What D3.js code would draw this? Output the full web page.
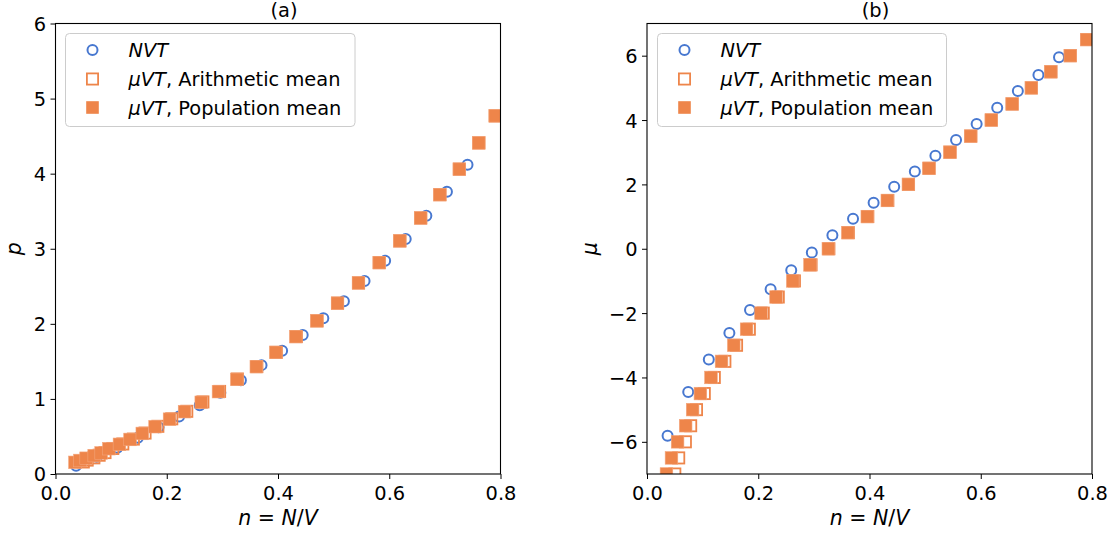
<!DOCTYPE html>
<html><head><meta charset="utf-8">
<script src="https://cdn.jsdelivr.net/npm/d3@7"></script>
<style>
body{margin:0;background:#fff;}
svg{display:block;font-family:"DejaVu Sans",sans-serif;}
</style></head><body><svg id="c" width="1114" height="535"></svg>
<script>
// NVT simulations
const nNVT=[0.0370,0.0741,0.1111,0.1481,0.1852,0.2222,0.2593,0.2963,0.3333,0.3704,0.4074,0.4444,0.4815,0.5185,0.5556,0.5926,0.6296,0.6667,0.7037,0.7407];
const pNVT=[0.11,0.23,0.35,0.484,0.622,0.765,0.915,1.083,1.25,1.45,1.64,1.85,2.075,2.30,2.57,2.84,3.13,3.44,3.76,4.12];
const muNVT=[-5.81,-4.45,-3.44,-2.62,-1.90,-1.255,-0.665,-0.12,0.42,0.93,1.43,1.93,2.40,2.89,3.38,3.88,4.385,4.90,5.40,5.95];
// muVT simulations
const muVT=[-7,-6.5,-6,-5.5,-5,-4.5,-4,-3.5,-3,-2.5,-2,-1.5,-1,-0.5,0,0.5,1,1.5,2,2.5,3,3.5,4,4.5,5,5.5,6,6.5];
const nPop=[0.035,0.044,0.055,0.0695,0.082,0.096,0.115,0.134,0.156,0.179,0.205,0.232,0.262,0.293,0.326,0.361,0.396,0.432,0.470,0.507,0.5447,0.582,0.619,0.6565,0.691,0.726,0.761,0.7905];
const pPop=[0.155,0.18,0.21,0.245,0.28,0.337,0.395,0.46,0.54,0.63,0.73,0.83,0.955,1.097,1.26,1.43,1.62,1.83,2.04,2.275,2.545,2.815,3.105,3.41,3.72,4.06,4.41,4.77];
const nArith=[0.050,0.057,0.069,0.0785,0.089,0.103,0.121,0.140,0.161,0.184,0.209,0.236,0.265,0.295,0.327,0.362,0.397,0.433,0.470,0.507,0.5447,0.582,0.619,0.6565,0.691,0.726,0.761,0.7905];
const pArith=[0.16,0.185,0.215,0.25,0.285,0.34,0.40,0.465,0.545,0.635,0.735,0.835,0.96,1.10,1.265,1.43,1.62,1.83,2.04,2.275,2.545,2.815,3.105,3.41,3.72,4.06,4.41,4.77];
// axes
const xTicks=[0,0.2,0.4,0.6,0.8];
const pTicks=[0,1,2,3,4,5,6];
const muTicks=[-6,-4,-2,0,2,4,6];
const legendLabels=[["NVT",""],["μVT",", Arithmetic mean"],["μVT",", Population mean"]];
const BLUE="#4878d0", ORANGE="#ee854a";

const svg=d3.select("#c");
const FS=19.4;

function panel(cfg){
  const x=d3.scaleLinear().domain([0,0.8]).range([cfg.x0,cfg.x1]);
  const y=d3.scaleLinear().domain(cfg.yDom).range([474,23.5]);
  const g=svg.append("g");
  const cid="clip"+cfg.id;
  svg.append("clipPath").attr("id",cid).append("rect")
    .attr("x",cfg.x0).attr("y",23.5).attr("width",cfg.x1-cfg.x0).attr("height",474-23.5);
  const marks=g.append("g").attr("clip-path","url(#"+cid+")");
  // NVT circles
  marks.selectAll("circle").data(nNVT.map((n,i)=>[n,cfg.yNVT[i]])).join("circle")
    .attr("cx",d=>x(d[0])).attr("cy",d=>y(d[1])).attr("r",5)
    .attr("fill","none").attr("stroke",BLUE).attr("stroke-width",2);
  // arithmetic hollow squares
  marks.selectAll("rect.ar").data(nArith.map((n,i)=>[n,cfg.yAr[i]])).join("rect").attr("class","ar")
    .attr("x",d=>x(d[0])-5.6).attr("y",d=>y(d[1])-5.6).attr("width",11.2).attr("height",11.2)
    .attr("fill","none").attr("stroke",ORANGE).attr("stroke-width",1.8);
  // population filled squares
  marks.selectAll("rect.po").data(nPop.map((n,i)=>[n,cfg.yPop[i]])).join("rect").attr("class","po")
    .attr("x",d=>x(d[0])-6.3).attr("y",d=>y(d[1])-6.3).attr("width",12.6).attr("height",12.6)
    .attr("fill",ORANGE).attr("stroke","#f3a47a").attr("stroke-width",0.6);

  // axes
  const xa=g.append("g").attr("transform","translate(0,474)")
    .call(d3.axisBottom(x).tickValues(xTicks).tickFormat(d3.format(".1f")).tickSize(5).tickPadding(7.5));
  const ya=g.append("g").attr("transform",`translate(${cfg.x0},0)`)
    .call(d3.axisLeft(y).tickValues(cfg.yTicks).tickFormat(d3.format("d")).tickSize(5).tickPadding(4.5));
  [xa,ya].forEach(a=>{
    a.attr("font-size",FS).attr("font-family","DejaVu Sans");
    a.selectAll("text").attr("fill","#000");
    a.selectAll("line").attr("stroke","#000").attr("stroke-width",1);
    a.select(".domain").remove();
  });
  ya.selectAll("text").attr("dy","0.36em");
  // frame
  g.append("rect").attr("x",cfg.x0).attr("y",23.5).attr("width",cfg.x1-cfg.x0).attr("height",474-23.5)
    .attr("fill","none").attr("stroke","#000").attr("stroke-width",1.1);
  // title
  g.append("text").attr("x",(cfg.x0+cfg.x1)/2+6).attr("y",17).attr("text-anchor","middle")
    .attr("font-size",FS).text(cfg.title);
  // x label
  const xl=g.append("text").attr("x",(cfg.x0+cfg.x1)/2).attr("y",525).attr("text-anchor","middle").attr("font-size",20.5);
  xl.append("tspan").attr("font-style","italic").text("n");
  xl.append("tspan").text(" = ");
  xl.append("tspan").attr("font-style","italic").text("N");
  xl.append("tspan").text("/");
  xl.append("tspan").attr("font-style","italic").text("V");
  // y label
  g.append("text").attr("transform",`translate(${cfg.ylx},${(23.5+474)/2}) rotate(-90)`)
    .attr("text-anchor","middle").attr("font-size",20.5).attr("font-style","italic").text(cfg.ylab);
  // legend
  const L=g.append("g");
  L.append("rect").attr("x",cfg.lx).attr("y",33.5).attr("width",cfg.lw).attr("height",93)
    .attr("rx",4).attr("fill","#fff").attr("fill-opacity",0.8).attr("stroke","#cccccc").attr("stroke-width",1);
  const rows=[50,79,107.5];
  const mx=cfg.lx+27, tx=cfg.lx+63;
  L.append("circle").attr("cx",mx).attr("cy",rows[0]).attr("r",5).attr("fill","none").attr("stroke",BLUE).attr("stroke-width",2);
  L.append("rect").attr("x",mx-5.6).attr("y",rows[1]-5.6).attr("width",11.2).attr("height",11.2).attr("fill","none").attr("stroke",ORANGE).attr("stroke-width",1.8);
  L.append("rect").attr("x",mx-6.3).attr("y",rows[2]-6.3).attr("width",12.6).attr("height",12.6).attr("fill",ORANGE);
  legendLabels.forEach((lab,i)=>{
    const t=L.append("text").attr("x",tx).attr("y",rows[i]+7).attr("font-size",FS);
    t.append("tspan").attr("font-style","italic").text(lab[0]);
    if(lab[1]) t.append("tspan").text(lab[1]);
  });
}

panel({id:"a",x0:55.5,x1:500.5,yDom:[0,6],yTicks:pTicks,yNVT:pNVT,yAr:pArith,yPop:pPop,title:"(a)",ylab:"p",ylx:21,lx:65.5,lw:289.5});
panel({id:"b",x0:647,x1:1092,yDom:[-7,7],yTicks:muTicks,yNVT:muNVT,yAr:muVT,yPop:muVT,title:"(b)",ylab:"μ",ylx:597,lx:657.5,lw:289});
</script></body></html>
